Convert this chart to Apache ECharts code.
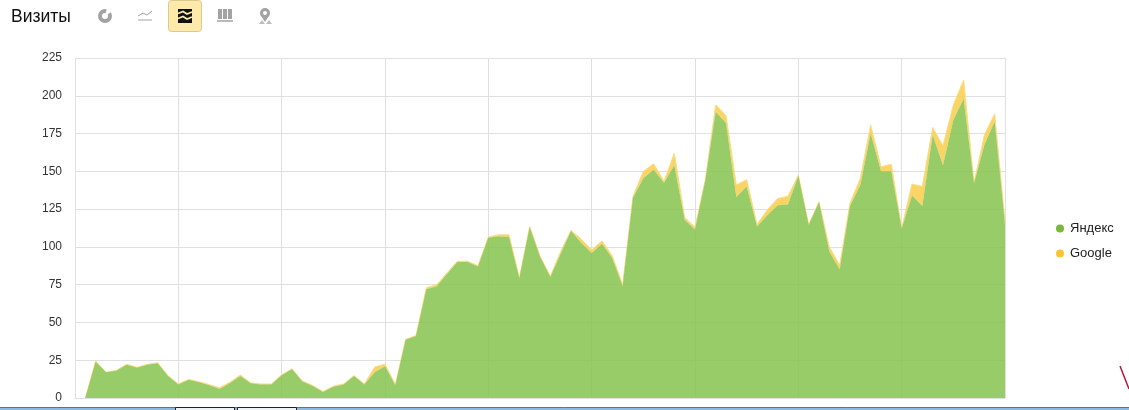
<!DOCTYPE html>
<html>
<head>
<meta charset="utf-8">
<style>html,body{margin:0;padding:0;background:#fff}#c{width:1129px;height:410px}</style>
<script src="https://cdn.jsdelivr.net/npm/echarts@6/dist/echarts.min.js"></script>
</head>
<body>
<div id="c"></div>
<script>
const yandex = [null,0,24,17,18,22,20,22,23,14.5,9,
  12,10.5,8.5,6,10,14.5,9.7,9,9,15,
  19,11,8,4,7.5,9,14.5,9,17,21,
  8.5,38.5,41,72,74,82,90,90,87,106,
  107,106.5,79,113,93.5,80,95.5,110.5,102.5,96,
  102,92.5,74,132.5,145.5,151,142.5,154,118,111.5,
  144,189.5,182,133,140,113.5,121,127.5,128,147,
  114.5,129.5,97,85,127,141,175,150,150,112,
  134,127,174,154,184,198,142,167.5,183,115];
const google = [null,0,0.5,0,0.3,0.3,0.3,0.3,0.3,0.3,0.3,
  0.3,0.3,0.3,0.8,0.5,0.8,0.3,0.3,0.3,0.3,
  0.3,0.3,0.3,0.3,0.3,0.3,0.3,0.3,3.5,1.5,
  0.3,0.3,0.3,1,1,0.8,0.5,0.5,0.5,0.5,
  1,1.5,0.5,0.5,0.5,0.5,1.5,0.5,2.5,2,
  2,1.5,1,1,4.5,4,1,8,1.5,1.5,
  0.5,4.5,5,8,4.5,1.5,3.5,4.5,5.5,0.5,
  0.3,0.3,3,3,2,4.5,5.7,3,4.7,0.5,
  7.6,13,5,13,10,12.5,0.5,6.5,5,2];
const categories = yandex.map((_, i) => String(i));
const yTicks = [0,25,50,75,100,125,150,175,200,225];
const seriesNames = ['Яндекс','Google'];
const titleText = 'Визиты';

const grey = '#a3a3a3';
const icons = [
  // pie icon
  {type:'ring',shape:{cx:105,cy:16,r:7,r0:3},style:{fill:grey}},
  {type:'polygon',shape:{points:[[105,16],[107,8],[113,11]]},style:{fill:'#fff'}},
  // line icon
  {type:'polyline',shape:{points:[[138,16],[143,13],[147,15],[152,11]]},style:{stroke:grey,fill:null,lineWidth:1}},
  {type:'line',shape:{x1:138,y1:20,x2:152,y2:20},style:{stroke:grey,lineWidth:1}},
  // active button
  {type:'rect',shape:{x:168.5,y:0.5,width:33,height:31,r:3},style:{fill:'#fde9a9',stroke:'#dcc98c',lineWidth:1}},
  {type:'rect',shape:{x:178,y:9,width:14,height:14},style:{fill:'#111'}},
  {type:'polyline',shape:{points:[[178,13.5],[183,11.5],[187,14],[192,12]]},style:{stroke:'#fde9a9',fill:null,lineWidth:1.8}},
  {type:'polyline',shape:{points:[[178,18.5],[183,16.5],[187,19],[192,17]]},style:{stroke:'#fde9a9',fill:null,lineWidth:1.8}},
  // bars icon
  {type:'rect',shape:{x:218,y:9,width:4,height:10},style:{fill:grey}},
  {type:'rect',shape:{x:223,y:9,width:4,height:10},style:{fill:grey}},
  {type:'rect',shape:{x:228,y:9,width:4,height:10},style:{fill:grey}},
  {type:'line',shape:{x1:217,y1:21,x2:233,y2:21},style:{stroke:grey,lineWidth:1.5}},
  // map pin icon
  {type:'ring',shape:{cx:265,cy:13,r:5,r0:2},style:{fill:grey}},
  {type:'polygon',shape:{points:[[260.5,15],[269.5,15],[265,22]]},style:{fill:grey}},
  {type:'polygon',shape:{points:[[259,24],[262,20],[265,24]]},style:{fill:'#bdbdbd'}},
  {type:'polygon',shape:{points:[[266,24],[269,20],[272,24]]},style:{fill:'#bdbdbd'}},
  // red stroke, bottom right
  {type:'line',shape:{x1:1120,y1:366,x2:1129,y2:389},style:{stroke:'#b5173a',lineWidth:1.5}},
  // window strip at the bottom
  {type:'rect',shape:{x:0,y:407,width:1129,height:3},style:{fill:'#8db9dc'}},
  {type:'line',shape:{x1:0,y1:407.5,x2:1129,y2:407.5},style:{stroke:'#4f7796',lineWidth:1}},
  {type:'rect',shape:{x:175.5,y:407.5,width:59,height:4},style:{fill:'#eef3f7',stroke:'#222',lineWidth:1}},
  {type:'rect',shape:{x:237.5,y:407.5,width:59,height:4},style:{fill:'#eef3f7',stroke:'#222',lineWidth:1}}
];

const chart = echarts.init(document.getElementById('c'), null, {renderer:'canvas'});
chart.setOption({
  animation:false,
  backgroundColor:'#fff',
  textStyle:{fontFamily:'Liberation Sans'},
  title:{text:titleText,left:6,top:3,textStyle:{fontSize:17.5,fontWeight:'normal',color:'#111',fontFamily:'Liberation Sans'}},
  legend:{
    orient:'vertical',left:1051,top:217,icon:'circle',itemWidth:8,itemHeight:8,itemGap:12,
    textStyle:{fontSize:13,color:'#222',fontFamily:'Liberation Sans',padding:[0,0,0,1]},
    data:seriesNames
  },
  grid:{left:75,right:124,top:58,bottom:12,containLabel:false},
  xAxis:{
    type:'category',boundaryGap:false,data:categories,
    axisLine:{show:true,lineStyle:{color:'#e0e0e0'}},axisTick:{show:false},axisLabel:{show:false},
    splitLine:{show:true,interval:i=>i%10===0,lineStyle:{color:'#e0e0e0',width:1}}
  },
  yAxis:{
    type:'value',min:0,max:yTicks[yTicks.length-1],interval:25,
    axisLine:{show:true,lineStyle:{color:'#e0e0e0'}},axisTick:{show:false},
    axisLabel:{fontSize:12,color:'#333',margin:13,padding:[4,0,0,0],fontFamily:'Liberation Sans'},
    splitLine:{show:true,lineStyle:{color:'#e0e0e0',width:1}}
  },
  series:[
    {name:seriesNames[0],type:'line',stack:'v',data:yandex,symbol:'none',connectNulls:false,
     itemStyle:{color:'#7ab83c'},lineStyle:{width:0},areaStyle:{color:'#86c34e',opacity:0.85},z:3},
    {name:seriesNames[1],type:'line',stack:'v',data:google,symbol:'none',connectNulls:false,
     itemStyle:{color:'#fcc52f'},lineStyle:{width:1,color:'#fbdc86'},areaStyle:{color:'#f9cc49',opacity:0.85},z:2}
  ],
  graphic:{elements:icons.map(e=>Object.assign({silent:true,z:10},e))}
});
</script>
</body>
</html>
